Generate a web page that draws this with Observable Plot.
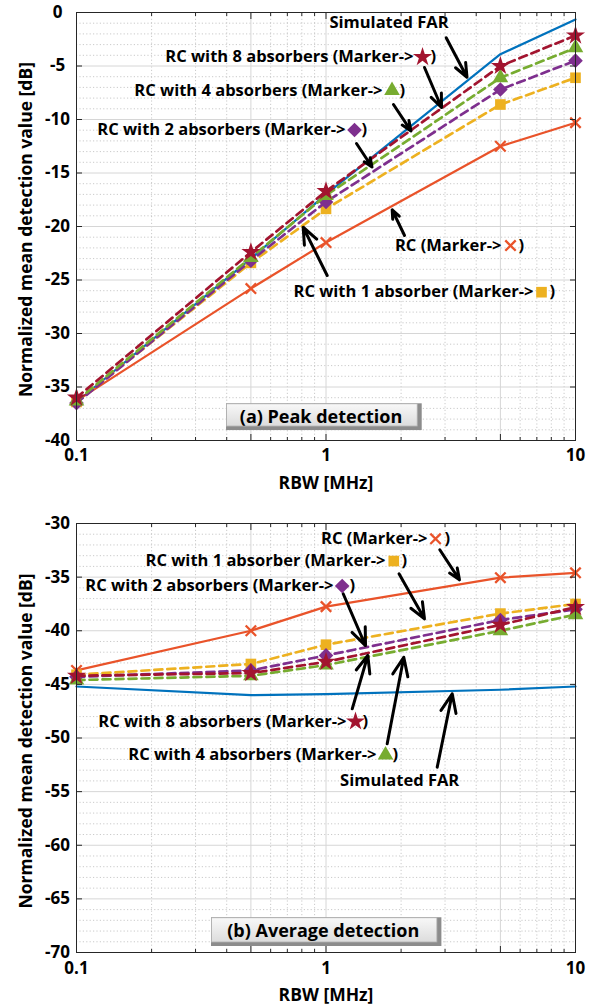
<!DOCTYPE html>
<html>
<head>
<meta charset="utf-8">
<script src="https://cdn.jsdelivr.net/npm/d3@7"></script>
<script src="https://cdn.jsdelivr.net/npm/@observablehq/plot@0.6"></script>
<style>
  html, body { margin: 0; padding: 0; background: #fff; }
  #chart { width: 596px; }
  #chart svg { display: block; }
</style>
</head>
<body>
<div id="chart"></div>
<script>
// ---------------- data ----------------
const rbw = [0.1, 0.5, 1, 5, 10];
const seriesNames = ["Simulated FAR", "RC", "RC with 1 absorber", "RC with 2 absorbers", "RC with 4 absorbers", "RC with 8 absorbers"];

// (a) Peak detection
const peakFAR  = [-36.4, -23.0, -17.0, -3.9, -0.65];
const peakRC   = [-36.3, -25.8, -21.5, -12.5, -10.3];
const peakAbs1 = [-36.4, -23.4, -18.35, -8.6, -6.1];
const peakAbs2 = [-36.5, -23.2, -17.7, -7.2, -4.5];
const peakAbs4 = [-36.3, -22.9, -17.1, -6.1, -3.3];
const peakAbs8 = [-36.0, -22.4, -16.7, -5.0, -2.15];

// (b) Average detection
const avgFAR  = [-45.2, -46.0, -45.9, -45.5, -45.2];
const avgRC   = [-43.7, -40.0, -37.75, -35.05, -34.6];
const avgAbs1 = [-44.1, -43.1, -41.3, -38.4, -37.5];
const avgAbs2 = [-44.3, -43.7, -42.3, -39.0, -38.0];
const avgAbs4 = [-44.6, -44.2, -43.2, -40.0, -38.5];
const avgAbs8 = [-44.2, -43.95, -42.9, -39.45, -37.8];

// ticks
const xTicks = [0.1, 0.5, 1, 5, 10];
const xTickLabels = ["0.1", "0.5", "1", "5", "10"];
const xMinor = [0.2, 0.3, 0.4, 0.6, 0.7, 0.8, 0.9, 2, 3, 4, 6, 7, 8, 9];
const peakYTicks = [-40, -35, -30, -25, -20, -15, -10, -5, 0];
const avgYTicks = [-70, -65, -60, -55, -50, -45, -40, -35, -30];

const xTitle = "RBW [MHz]";
const yTitle = "Normalized mean detection value [dB]";

// annotations, panel (a)
const peakTitle = "(a) Peak detection";
const peakTitleBox = {x1: 0.3993, x2: 2.430, y1: -36.57, y2: -39.07, cx: 0.955, cy: -37.85};
const peakFarText = {text: "Simulated FAR", x: 1.789, y: -0.91};
const peakNoteText   = ["RC with 8 absorbers (Marker->", "RC with 4 absorbers (Marker->", "RC with 2 absorbers (Marker->", "RC (Marker->", "RC with 1 absorber (Marker->"];
const peakNoteSeries = ["RC with 8 absorbers", "RC with 4 absorbers", "RC with 2 absorbers", "RC", "RC with 1 absorber"];
const peakNoteEndX   = [2.242, 1.685, 1.197, 5.051, 6.787];
const peakNoteSymX   = [2.437, 1.839, 1.301, 5.489, 7.307];
const peakNoteParenX = [2.624, 1.971, 1.388, 5.908, 7.866];
const peakNoteY      = [-4.16, -7.29, -10.98, -21.78, -26.14];
const peakArrowX1 = [3.032, 2.482, 1.864, 1.325, 2.064, 1.011];
const peakArrowY1 = [-2.36, -5.14, -8.60, -12.24, -20.84, -24.58];
const peakArrowX2 = [3.674, 2.904, 2.191, 1.529, 1.842, 0.810];
const peakArrowY2 = [-6.05, -8.88, -11.07, -14.44, -18.44, -20.07];

// annotations, panel (b)
const avgTitle = "(b) Average detection";
const avgTitleBox = {x1: 0.3476, x2: 2.914, y1: -66.76, y2: -69.44, cx: 0.975, cy: -68.0};
const avgFarText = {text: "Simulated FAR", x: 1.974, y: -53.96};
const avgNoteText   = ["RC (Marker->", "RC with 1 absorber (Marker->", "RC with 2 absorbers (Marker->", "RC with 8 absorbers (Marker->", "RC with 4 absorbers (Marker->"];
const avgNoteSeries = ["RC", "RC with 1 absorber", "RC with 2 absorbers", "RC with 8 absorbers", "RC with 4 absorbers"];
const avgNoteEndX   = [2.552, 1.732, 1.072, 1.208, 1.594];
const avgNoteSymX   = [2.748, 1.869, 1.161, 1.313, 1.732];
const avgNoteParenX = [2.985, 2.007, 1.242, 1.401, 1.847];
const avgNoteY      = [-31.43, -33.5, -35.83, -48.46, -51.59];
const avgArrowX1 = [2.858, 1.962, 1.172, 1.274, 1.759, 2.791];
const avgArrowY1 = [-32.45, -34.69, -36.55, -47.28, -50.54, -52.72];
const avgArrowX2 = [3.428, 2.482, 1.440, 1.471, 2.050, 3.205];
const avgArrowY2 = [-35.25, -38.89, -41.38, -42.31, -42.47, -45.88];

// ---------------- styles ----------------
const styles = {
  "Simulated FAR":       {color: "#0072BD", dashed: false, symbol: null},
  "RC":                  {color: "#E9532A", dashed: false, symbol: "times", r: 4.8},
  "RC with 1 absorber":  {color: "#EDB120", dashed: true,  symbol: "square", r: 6.0},
  "RC with 2 absorbers": {color: "#7E2F8E", dashed: true,  symbol: "diamond2", r: 6.6},
  "RC with 4 absorbers": {color: "#77AC30", dashed: true,  symbol: "triangle", r: 5.8},
  "RC with 8 absorbers": {color: "#A2142F", dashed: true,  symbol: "star", r: 6.0}
};
const FONT = "'Open Sans', 'Noto Sans', sans-serif";
const NOTE_SIZE = 16.5;

function symbolDot(data, name, x, y) {
  const st = styles[name];
  const isStroke = st.symbol === "times";
  return Plot.dot(data, {
    x, y, symbol: st.symbol, r: st.r,
    fill: isStroke ? "none" : st.color,
    stroke: isStroke ? st.color : "none",
    strokeWidth: isStroke ? 2.3 : 0
  });
}

function panel(cfg) {
  const rows = cfg.values.flatMap((vals, si) => vals.map((v, i) => ({series: seriesNames[si], x: rbw[i], y: v})));
  const yMinor = d3.range(cfg.yDomain[0], cfg.yDomain[1] + 1, 1).filter(v => !cfg.yTicks.includes(v));
  const notes = d3.range(cfg.noteText.length).map(i => ({text: cfg.noteText[i], series: cfg.noteSeries[i], xe: cfg.noteEndX[i], xs: cfg.noteSymX[i], xp: cfg.noteParenX[i], y: cfg.noteY[i]}));
  const arrows = d3.range(cfg.arrowX1.length).map(i => ({x1: cfg.arrowX1[i], y1: cfg.arrowY1[i], x2: cfg.arrowX2[i], y2: cfg.arrowY2[i]}));
  const gid = cfg.gradId;

  const marks = [
    () => {
      const defs = d3.create("svg:defs");
      const g = defs.append("linearGradient").attr("id", gid).attr("x1", 0).attr("y1", 0).attr("x2", 0).attr("y2", 1);
      g.append("stop").attr("offset", "0%").attr("stop-color", "#f8f8f8");
      g.append("stop").attr("offset", "100%").attr("stop-color", "#dcdcdc");
      return defs.node();
    },
    Plot.gridX(xMinor, {stroke: "#bcbcbc", strokeOpacity: 1, strokeWidth: 0.8, strokeDasharray: "1.2,2.2"}),
    Plot.gridY(yMinor, {stroke: "#bcbcbc", strokeOpacity: 1, strokeWidth: 0.8, strokeDasharray: "1.2,2.2"}),
    Plot.gridX(xTicks.slice(1, -1), {stroke: "#d6d6d6", strokeOpacity: 1, strokeWidth: 1}),
    Plot.gridY(cfg.yTicks.slice(1, -1), {stroke: "#d6d6d6", strokeOpacity: 1, strokeWidth: 1})
  ];

  for (const name of seriesNames) {
    const st = styles[name];
    const data = rows.filter(d => d.series === name);
    marks.push(Plot.line(data, {
      x: "x", y: "y", stroke: st.color,
      strokeWidth: st.dashed ? 2.7 : 2.2,
      strokeDasharray: st.dashed ? "8,5" : null
    }));
    if (st.symbol) marks.push(symbolDot(data, name, "x", "y"));
  }

  marks.push(
    Plot.frame({stroke: "#262626", strokeWidth: 1}),
    Plot.axisX(xTicks, {anchor: "bottom", tickSize: -6, tickFormat: () => "", stroke: "#262626"}),
    Plot.axisX(xTicks, {anchor: "top", tickSize: -6, tickFormat: () => "", stroke: "#262626"}),
    Plot.axisX(xMinor, {anchor: "bottom", tickSize: -3, tickFormat: () => "", stroke: "#262626"}),
    Plot.axisX(xMinor, {anchor: "top", tickSize: -3, tickFormat: () => "", stroke: "#262626"}),
    Plot.axisY(cfg.yTicks, {anchor: "left", tickSize: -6, tickFormat: () => "", stroke: "#262626"}),
    Plot.axisY(cfg.yTicks, {anchor: "right", tickSize: -6, tickFormat: () => "", stroke: "#262626"}),
    Plot.axisX(xTicks, {anchor: "bottom", tickSize: 0, tickPadding: cfg.tickPad, tickFormat: d => xTickLabels[xTicks.indexOf(d)], fontSize: 17, fontWeight: "bold", fill: "black"}),
    Plot.axisY(cfg.yTicks, {anchor: "left", tickSize: 0, tickPadding: 19, textAnchor: "middle", tickFormat: d => String(d), fontSize: 17, fontWeight: "bold", fill: "black"}),
    Plot.text([xTitle], {frameAnchor: "bottom", lineAnchor: "middle", textAnchor: "middle", dy: 43, fontSize: 17.5, fontWeight: "bold", fill: "black"}),
    Plot.text([yTitle], {frameAnchor: "left", lineAnchor: "middle", textAnchor: "middle", dx: -50, dy: 3, rotate: -90, fontSize: 17.5, fontWeight: "bold", fill: "black"})
  );

  const b = [cfg.box];
  marks.push(
    Plot.rect(b, {x1: "x1", x2: "x2", y1: "y1", y2: "y2", fill: "#8c8c8c"}),
    Plot.rect(b, {x1: "x1", x2: "x2", y1: "y1", y2: "y2", fill: `url(#${gid})`, stroke: "#b0b0b0", strokeWidth: 0.8, insetRight: 4.5, insetBottom: 4, insetLeft: 0.5, insetTop: 0.5}),
    Plot.text(b, {x: "cx", y: "cy", text: () => cfg.title, fontSize: 18, fontWeight: "bold", fill: "black"})
  );

  marks.push(Plot.arrow(arrows, {x1: "x1", y1: "y1", x2: "x2", y2: "y2", stroke: "black", strokeWidth: 3, headLength: 10, headAngle: 45}));

  marks.push(
    Plot.text([cfg.farText], {x: "x", y: "y", text: "text", fontSize: NOTE_SIZE, fontWeight: "bold", fill: "black"}),
    Plot.text(notes, {x: "xe", y: "y", text: "text", textAnchor: "end", fontSize: NOTE_SIZE, fontWeight: "bold", fill: "black"}),
    Plot.text(notes, {x: "xp", y: "y", text: () => ")", textAnchor: "start", fontSize: NOTE_SIZE, fontWeight: "bold", fill: "black"})
  );
  for (const n of notes) marks.push(symbolDot([n], n.series, "xs", "y"));

  return Plot.plot({
    width: 596,
    height: cfg.height,
    marginLeft: 76,
    marginRight: 21,
    marginTop: cfg.marginTop,
    marginBottom: cfg.marginBottom,
    x: {type: "log", domain: [0.1, 10], axis: null},
    y: {domain: cfg.yDomain, axis: null},
    style: {fontFamily: FONT, fontSize: "16px", fontWeight: "bold", color: "black", background: "white", overflow: "visible"},
    marks
  });
}

const chart = document.getElementById("chart");
chart.appendChild(panel({
  values: [peakFAR, peakRC, peakAbs1, peakAbs2, peakAbs4, peakAbs8],
  yDomain: [-40, 0], yTicks: peakYTicks,
  noteText: peakNoteText, noteSeries: peakNoteSeries, noteEndX: peakNoteEndX, noteSymX: peakNoteSymX, noteParenX: peakNoteParenX, noteY: peakNoteY,
  arrowX1: peakArrowX1, arrowY1: peakArrowY1, arrowX2: peakArrowX2, arrowY2: peakArrowY2,
  farText: peakFarText, box: peakTitleBox, title: peakTitle,
  height: 490, marginTop: 12, marginBottom: 50, tickPad: 8, gradId: "gradA"
}));
chart.appendChild(panel({
  values: [avgFAR, avgRC, avgAbs1, avgAbs2, avgAbs4, avgAbs8],
  yDomain: [-70, -30], yTicks: avgYTicks,
  noteText: avgNoteText, noteSeries: avgNoteSeries, noteEndX: avgNoteEndX, noteSymX: avgNoteSymX, noteParenX: avgNoteParenX, noteY: avgNoteY,
  arrowX1: avgArrowX1, arrowY1: avgArrowY1, arrowX2: avgArrowX2, arrowY2: avgArrowY2,
  farText: avgFarText, box: avgTitleBox, title: avgTitle,
  height: 515, marginTop: 33, marginBottom: 53, tickPad: 9, gradId: "gradB"
}));
</script>
</body>
</html>
